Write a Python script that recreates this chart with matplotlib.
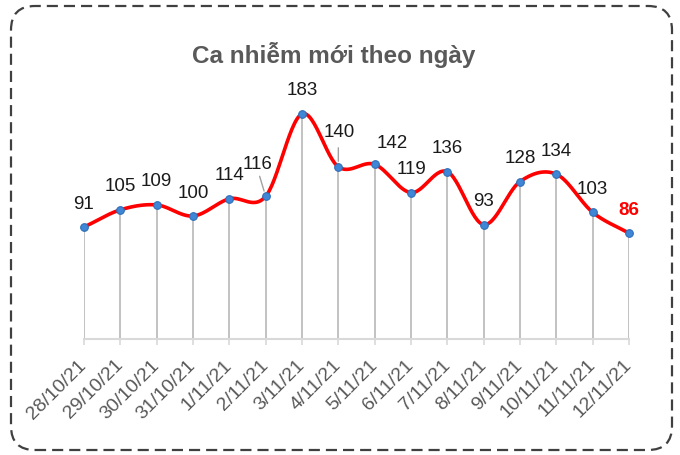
import matplotlib.pyplot as plt
import numpy as np
from matplotlib.patches import FancyBboxPatch

plt.rcParams['font.family'] = ['Liberation Sans', 'DejaVu Sans']

dates = ["28/10/21", "29/10/21", "30/10/21", "31/10/21", "1/11/21", "2/11/21",
         "3/11/21", "4/11/21", "5/11/21", "6/11/21", "7/11/21", "8/11/21",
         "9/11/21", "10/11/21", "11/11/21", "12/11/21"]
cases = [91, 105, 109, 100, 114, 116, 183, 140, 142, 119, 136, 93, 128, 134, 103, 86]
title = "Ca nhiễm mới theo ngày"

# label offsets in pixels (dx, dy) -- most sit straight above the point
offsets = {5: (-8, 32), 7: (1, 34), 8: (18, 21)}
leaders = {5: ((-1, 6), (-6, 20)), 7: ((0, 6), (0, 19))}


def smooth(x, y, n=30):
    # cardinal (Catmull-Rom) spline, like Excel's smoothed line
    x = np.asarray(x, float)
    y = np.asarray(y, float)
    mx = np.gradient(x)
    my = np.gradient(y)
    xs, ys = [], []
    t = np.linspace(0, 1, n)
    h00 = 2 * t**3 - 3 * t**2 + 1
    h10 = t**3 - 2 * t**2 + t
    h01 = -2 * t**3 + 3 * t**2
    h11 = t**3 - t**2
    for i in range(len(x) - 1):
        xs.append(h00 * x[i] + h10 * mx[i] + h01 * x[i + 1] + h11 * mx[i + 1])
        ys.append(h00 * y[i] + h10 * my[i] + h01 * y[i + 1] + h11 * my[i + 1])
    return np.concatenate(xs), np.concatenate(ys)


fig = plt.figure(figsize=(6.8, 4.55), dpi=100)
ax = fig.add_axes([84 / 680, 1 - 339 / 455, 545 / 680, 246 / 455])

xi = np.arange(len(cases))
ax.vlines(xi, 0, cases, color="#bdbdbd", lw=1.3, zorder=1)
sx, sy = smooth(xi, cases)
ax.plot(sx, sy, color="#ff0000", lw=2.6, zorder=2, clip_on=False,
        solid_capstyle="round")
ax.plot(xi, cases, "o", ms=5.5, color="#3f86d6", mec="#2f6fb8", mew=0.8,
        zorder=3, clip_on=False)

px = 72 / 100  # pixels -> points
for i, v in enumerate(cases):
    dx, dy = offsets.get(i, (0, 23))
    bold = i == len(cases) - 1
    ax.annotate(str(v), (i, v), xytext=(dx * px, dy * px), textcoords="offset points",
                ha="center", va="center", fontsize=13.5,
                color="#ff0000" if bold else "#1a1a1a",
                fontweight="bold" if bold else "normal", annotation_clip=False)
for i, (p0, p1) in leaders.items():
    ax.annotate("", (i, cases[i]), xytext=(p1[0] * px, p1[1] * px), textcoords="offset points",
                arrowprops=dict(arrowstyle="-", color="#a0a0a0", lw=1,
                                shrinkA=0, shrinkB=4),
                annotation_clip=False)

ax.set_xlim(0, len(cases) - 1)
ax.set_ylim(0, 200)
ax.set_yticks([])
for s in ["top", "right", "left"]:
    ax.spines[s].set_visible(False)
ax.spines["bottom"].set_color("#d9d9d9")
ax.spines["bottom"].set_linewidth(1.5)
ax.set_xticks(xi)
ax.set_xticklabels(dates, rotation=45, ha="right", va="center",
                   rotation_mode="anchor", fontsize=14, color="#595959")
ax.tick_params(axis="x", length=4, width=1.2, color="#d9d9d9", pad=13)

fig.text(334 / 680, 1 - 55 / 455, title, ha="center", va="center",
         fontsize=17.5, fontweight="bold", color="#595959")

border = FancyBboxPatch((0.11, 0.05), 6.61, 4.44,
                        boxstyle="round,pad=0,rounding_size=0.24",
                        transform=fig.dpi_scale_trans, fill=False,
                        edgecolor="#404040", lw=1.6, linestyle=(0, (5, 2.7)))
fig.patches.append(border)

fig.savefig("out.png", dpi=100)
